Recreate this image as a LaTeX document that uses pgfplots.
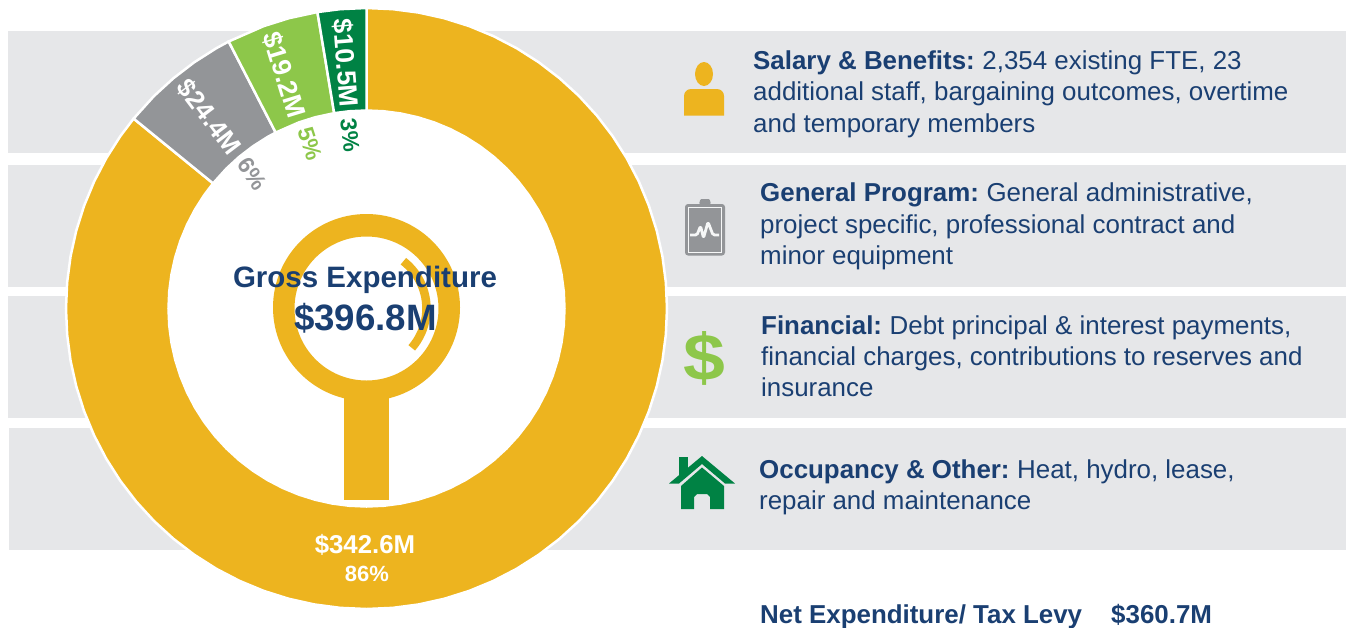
\documentclass[border=0pt]{standalone}
\usepackage{pgfplots}
\usepackage{fontspec}
\setmainfont{Liberation Sans}
\usepgfplotslibrary{polar}
\pgfplotsset{compat=1.18}
\definecolor{gold}{HTML}{EDB41F}
\definecolor{midgray}{HTML}{939598}
\definecolor{lgreen}{HTML}{8DC74A}
\definecolor{dgreen}{HTML}{008244}
\definecolor{navy}{HTML}{1A3F72}
\definecolor{band}{HTML}{E6E7E9}
\newcommand{\fs}[1]{\fontsize{#1}{#1}\selectfont}
\begin{document}
\begin{tikzpicture}
\useasboundingbox (0pt,0pt) rectangle (1346pt,-627pt);
\begin{scope}[x=1pt,y=-1pt]
\fill[white] (0,0) rectangle (1346,627);
\fill[band] (8,31) rectangle (1346,153);
\fill[band] (8,165) rectangle (1346,287);
\fill[band] (8,296) rectangle (1346,418);
\fill[band] (9,428) rectangle (1346,550);
\fill[white] (366.5,308.5) circle (200);
\end{scope}
% values: $342.6M, $24.4M, $19.2M, $10.5M; slice boundaries
\begin{polaraxis}[at={(366.5pt,-308.5pt)},anchor=center,scale only axis,width=601pt,height=601pt,
  ymin=0,ymax=300.5,xmin=0,xmax=360,hide axis,clip=false]
\addplot[draw=white,line width=2.5pt,fill=gold] coordinates {
(140.8,300.5)(145,300.5)(150,300.5)(155,300.5)(160,300.5)(165,300.5)(170,300.5)(175,300.5)(180,300.5)(185,300.5)(190,300.5)(195,300.5)(200,300.5)(205,300.5)(210,300.5)(215,300.5)(220,300.5)(225,300.5)(230,300.5)(235,300.5)(240,300.5)(245,300.5)(250,300.5)(255,300.5)(260,300.5)(265,300.5)(270,300.5)(275,300.5)(280,300.5)(285,300.5)(290,300.5)(295,300.5)(300,300.5)(305,300.5)(310,300.5)(315,300.5)(320,300.5)(325,300.5)(330,300.5)(335,300.5)(340,300.5)(345,300.5)(350,300.5)(355,300.5)(360,300.5)(5,300.5)(10,300.5)(15,300.5)(20,300.5)(25,300.5)(30,300.5)(35,300.5)(40,300.5)(45,300.5)(50,300.5)(55,300.5)(60,300.5)(65,300.5)(70,300.5)(75,300.5)(80,300.5)(85,300.5)(90,300.5)
(90,198)(85,198)(80,198)(75,198)(70,198)(65,198)(60,198)(55,198)(50,198)(45,198)(40,198)(35,198)(30,198)(25,198)(20,198)(15,198)(10,198)(5,198)(360,198)(355,198)(350,198)(345,198)(340,198)(335,198)(330,198)(325,198)(320,198)(315,198)(310,198)(305,198)(300,198)(295,198)(290,198)(285,198)(280,198)(275,198)(270,198)(265,198)(260,198)(255,198)(250,198)(245,198)(240,198)(235,198)(230,198)(225,198)(220,198)(215,198)(210,198)(205,198)(200,198)(195,198)(190,198)(185,198)(180,198)(175,198)(170,198)(165,198)(160,198)(155,198)(150,198)(145,198)(140.8,198)
} -- cycle;
\addplot[draw=white,line width=2.5pt,fill=midgray] coordinates {
(117.3,300.5)(120,300.5)(125,300.5)(130,300.5)(135,300.5)(140.8,300.5)(140.8,198)(135,198)(130,198)(125,198)(120,198)(117.3,198)
} -- cycle;
\addplot[draw=white,line width=2.5pt,fill=lgreen] coordinates {
(99.4,300.5)(105,300.5)(110,300.5)(117.3,300.5)(117.3,198)(110,198)(105,198)(99.4,198)
} -- cycle;
\addplot[draw=white,line width=2.5pt,fill=dgreen] coordinates {
(90,300.5)(95,300.5)(99.4,300.5)(99.4,198)(95,198)(90,198)
} -- cycle;
\end{polaraxis}
\begin{scope}[x=1pt,y=-1pt]
% magnifier
\fill[gold,even odd rule] (366.5,307.5) circle (93.5) (366.5,308.5) circle (72);
\fill[gold] (344,392) rectangle (388.5,500);
\draw[gold,line width=8.5pt] (403.4,261.2) arc[start angle=52,end angle=-41,radius=60,y radius=-60];
% slice labels
\node[white,rotate=-85.5,font=\bfseries\fs{26.5}] at (345.5,63) {\$10.5M};
\node[white,rotate=-73,font=\bfseries\fs{26.5}] at (284,75) {\$19.2M};
\node[white,rotate=-53,font=\bfseries\fs{26}] at (209,117) {\$24.4M};
\node[dgreen,rotate=-83,font=\bfseries\fs{23}] at (350,135) {3\%};
\node[lgreen,rotate=-72,font=\bfseries\fs{23}] at (310,144) {5\%};
\node[midgray,rotate=-55,font=\bfseries\fs{23}] at (252.5,174) {6\%};
\node[white,font=\bfseries\fs{25.8}] at (365,545) {\$342.6M};
\node[white,font=\bfseries\fs{22}] at (367,574) {86\%};
% centre
\node[navy,anchor=base,font=\bfseries\fs{29.5}] at (365,287) {Gross Expenditure};
\node[navy,anchor=base,font=\bfseries\fs{36.7}] at (365.5,330) {\$396.8M};
% legend text
\tikzset{lg/.style={navy,anchor=base west,inner sep=0pt,font=\fs{25.9}}}
\node[lg] at (753,69) {\textbf{Salary \& Benefits:}\hspace{-2pt} 2,354 existing FTE, 23};
\node[lg] at (753,100) {additional staff, bargaining outcomes, overtime};
\node[lg] at (753,132) {and temporary members};
\node[lg] at (760,201) {\textbf{General Program:}\hspace{-2pt} General administrative,};
\node[lg] at (760,233) {project specific, professional contract and};
\node[lg] at (760,264) {minor equipment};
\node[lg] at (761,334) {\textbf{Financial:}\hspace{-2pt} Debt principal \& interest payments,};
\node[lg] at (761,365) {financial charges, contributions to reserves and};
\node[lg] at (761,396) {insurance};
\node[lg] at (759,478) {\textbf{Occupancy \& Other:}\hspace{-2pt} Heat, hydro, lease,};
\node[lg] at (759,509) {repair and maintenance};
\node[lg,font=\bfseries\fs{25.9}] at (760,623) {Net Expenditure/ Tax Levy};
\node[lg,font=\bfseries\fs{25.9}] at (1111,623) {\$360.7M};
% person icon
\fill[gold] (704,74) ellipse[x radius=9,y radius=12];
\fill[gold] (684,115.5) -- (684,96) to[out=90,in=180] (691,89) -- (717,89) to[out=0,in=90] (724,96) -- (724,115.5) -- cycle;
% clipboard icon
\fill[midgray,rounded corners=1pt] (699,204) -- (700.5,199) -- (709.5,199) -- (711,204) -- cycle;
\fill[midgray,rounded corners=3pt] (685,204) rectangle (725,255.5);
\draw[white!92!midgray,line width=0.9pt] (688.5,207.5) rectangle (721.5,252);
\draw[white!92!midgray,line width=2.8pt,line join=round,rounded corners=1.5pt] (690,235) -- (697,235) -- (700.5,226) -- (703.5,238) -- (708,222) -- (713,235) -- (719,235);
% dollar icon
\node[lgreen,font=\bfseries\fs{66},xscale=1.14,inner sep=0pt] at (704,358) {\$};
% house icon
\fill[dgreen] (679,457) rectangle (688,475);
\fill[dgreen] (669,483.5) -- (702,456) -- (735,483.5) -- (725,483.5) -- (702,464) -- (679,483.5) -- cycle;
\fill[dgreen] (702,467.5) -- (724,486) -- (724,509) -- (710,509) -- (710,497) -- (707,494) -- (697,494) -- (694,497) -- (694,509) -- (681,509) -- (681,486) -- cycle;
\end{scope}
\end{tikzpicture}
\end{document}
